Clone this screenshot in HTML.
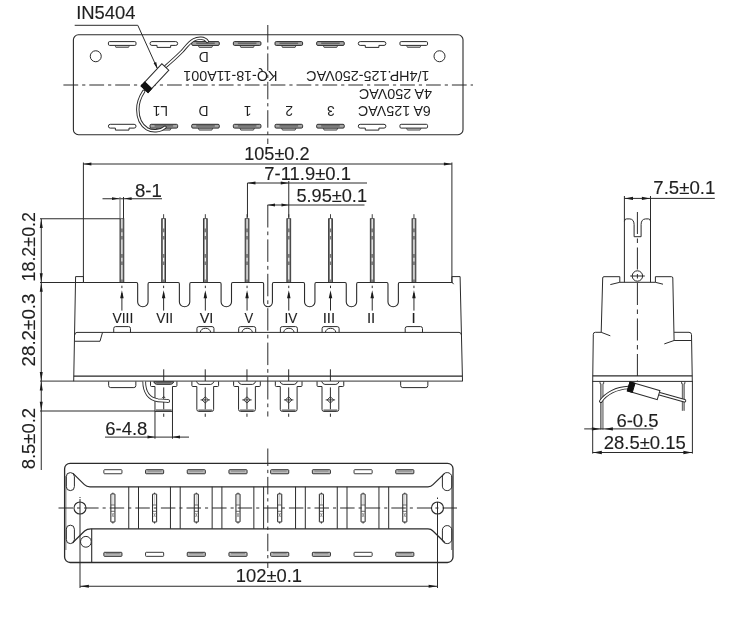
<!DOCTYPE html>
<html><head><meta charset="utf-8"><title>drawing</title>
<style>html,body{margin:0;padding:0;background:#fff}svg{display:block;will-change:transform}text{font-family:"Liberation Sans",sans-serif}</style></head>
<body>
<svg width="741" height="618" viewBox="0 0 741 618">
<rect x="0" y="0" width="741" height="618" fill="#fff"/>
<rect x="73.40" y="34.80" width="389.60" height="99.90" rx="5" stroke="#2b2b2b" stroke-width="1.1" fill="none" />
<circle cx="95.75" cy="56.25" r="5.5" stroke="#2b2b2b" stroke-width="1" fill="none"/>
<circle cx="439.50" cy="56.25" r="5.5" stroke="#2b2b2b" stroke-width="1" fill="none"/>
<line x1="63.40" y1="85.00" x2="473.00" y2="85.00" stroke="#2b2b2b" stroke-width="1" stroke-dasharray="14.8 3.95 3.2 3.95"/>
<line x1="267.80" y1="25.00" x2="267.80" y2="144.00" stroke="#2b2b2b" stroke-width="1" stroke-dasharray="17.5 3.8 3.3 3.8"/>
<path d="M114.90,45.40 L115.90,47.40 H128.50 L129.50,45.40" stroke="#555" stroke-width="0.9" fill="#c4c4c4" />
<rect x="108.40" y="41.60" width="27.60" height="3.80" rx="1.2" stroke="#2b2b2b" stroke-width="1" fill="#fff" />
<path d="M110.30,124.30 H134.10 Q136.00,124.30 136.00,126.20 Q136.00,128.10 134.10,128.10 H129.00 V130.10 H115.40 V128.10 H110.30 Q108.40,128.10 108.40,126.20 Q108.40,124.30 110.30,124.30 Z" stroke="#2b2b2b" stroke-width="1" fill="#fff" />
<path d="M151.95,41.60 H175.75 Q177.65,41.60 177.65,43.50 Q177.65,45.40 175.75,45.40 H170.65 V47.40 H157.05 V45.40 H151.95 Q150.05,45.40 150.05,43.50 Q150.05,41.60 151.95,41.60 Z" stroke="#2b2b2b" stroke-width="1" fill="#fff" />
<path d="M156.55,128.10 L157.55,130.10 H170.15 L171.15,128.10" stroke="#444" stroke-width="0.9" fill="#c4c4c4" />
<rect x="150.05" y="124.30" width="27.60" height="3.80" rx="1.2" stroke="#2a2a2a" stroke-width="1" fill="#a6a6a6" />
<line x1="154.55" y1="125.90" x2="173.15" y2="125.90" stroke="#5a5a5a" stroke-width="1.3" />
<path d="M198.20,45.40 L199.20,47.40 H211.80 L212.80,45.40" stroke="#444" stroke-width="0.9" fill="#c4c4c4" />
<rect x="191.70" y="41.60" width="27.60" height="3.80" rx="1.2" stroke="#2a2a2a" stroke-width="1" fill="#a6a6a6" />
<line x1="196.20" y1="43.20" x2="214.80" y2="43.20" stroke="#5a5a5a" stroke-width="1.3" />
<path d="M198.20,128.10 L199.20,130.10 H211.80 L212.80,128.10" stroke="#444" stroke-width="0.9" fill="#c4c4c4" />
<rect x="191.70" y="124.30" width="27.60" height="3.80" rx="1.2" stroke="#2a2a2a" stroke-width="1" fill="#a6a6a6" />
<line x1="196.20" y1="125.90" x2="214.80" y2="125.90" stroke="#5a5a5a" stroke-width="1.3" />
<path d="M239.85,45.40 L240.85,47.40 H253.45 L254.45,45.40" stroke="#444" stroke-width="0.9" fill="#c4c4c4" />
<rect x="233.35" y="41.60" width="27.60" height="3.80" rx="1.2" stroke="#2a2a2a" stroke-width="1" fill="#a6a6a6" />
<line x1="237.85" y1="43.20" x2="256.45" y2="43.20" stroke="#5a5a5a" stroke-width="1.3" />
<path d="M239.85,128.10 L240.85,130.10 H253.45 L254.45,128.10" stroke="#444" stroke-width="0.9" fill="#c4c4c4" />
<rect x="233.35" y="124.30" width="27.60" height="3.80" rx="1.2" stroke="#2a2a2a" stroke-width="1" fill="#a6a6a6" />
<line x1="237.85" y1="125.90" x2="256.45" y2="125.90" stroke="#5a5a5a" stroke-width="1.3" />
<path d="M281.50,45.40 L282.50,47.40 H295.10 L296.10,45.40" stroke="#444" stroke-width="0.9" fill="#c4c4c4" />
<rect x="275.00" y="41.60" width="27.60" height="3.80" rx="1.2" stroke="#2a2a2a" stroke-width="1" fill="#a6a6a6" />
<line x1="279.50" y1="43.20" x2="298.10" y2="43.20" stroke="#5a5a5a" stroke-width="1.3" />
<path d="M281.50,128.10 L282.50,130.10 H295.10 L296.10,128.10" stroke="#444" stroke-width="0.9" fill="#c4c4c4" />
<rect x="275.00" y="124.30" width="27.60" height="3.80" rx="1.2" stroke="#2a2a2a" stroke-width="1" fill="#a6a6a6" />
<line x1="279.50" y1="125.90" x2="298.10" y2="125.90" stroke="#5a5a5a" stroke-width="1.3" />
<path d="M323.15,45.40 L324.15,47.40 H336.75 L337.75,45.40" stroke="#444" stroke-width="0.9" fill="#c4c4c4" />
<rect x="316.65" y="41.60" width="27.60" height="3.80" rx="1.2" stroke="#2a2a2a" stroke-width="1" fill="#a6a6a6" />
<line x1="321.15" y1="43.20" x2="339.75" y2="43.20" stroke="#5a5a5a" stroke-width="1.3" />
<path d="M323.15,128.10 L324.15,130.10 H336.75 L337.75,128.10" stroke="#444" stroke-width="0.9" fill="#c4c4c4" />
<rect x="316.65" y="124.30" width="27.60" height="3.80" rx="1.2" stroke="#2a2a2a" stroke-width="1" fill="#a6a6a6" />
<line x1="321.15" y1="125.90" x2="339.75" y2="125.90" stroke="#5a5a5a" stroke-width="1.3" />
<path d="M360.20,41.60 H384.00 Q385.90,41.60 385.90,43.50 Q385.90,45.40 384.00,45.40 H378.90 V47.40 H365.30 V45.40 H360.20 Q358.30,45.40 358.30,43.50 Q358.30,41.60 360.20,41.60 Z" stroke="#2b2b2b" stroke-width="1" fill="#fff" />
<path d="M360.20,124.30 H384.00 Q385.90,124.30 385.90,126.20 Q385.90,128.10 384.00,128.10 H378.90 V130.10 H365.30 V128.10 H360.20 Q358.30,128.10 358.30,126.20 Q358.30,124.30 360.20,124.30 Z" stroke="#2b2b2b" stroke-width="1" fill="#fff" />
<path d="M406.45,45.40 L407.45,47.40 H420.05 L421.05,45.40" stroke="#555" stroke-width="0.9" fill="#c4c4c4" />
<rect x="399.95" y="41.60" width="27.60" height="3.80" rx="1.2" stroke="#2b2b2b" stroke-width="1" fill="#fff" />
<path d="M406.45,128.10 L407.45,130.10 H420.05 L421.05,128.10" stroke="#555" stroke-width="0.9" fill="#c4c4c4" />
<rect x="399.95" y="124.30" width="27.60" height="3.80" rx="1.2" stroke="#2b2b2b" stroke-width="1" fill="#fff" />
<g transform="rotate(180 203.80 57.20)">
<text x="198.80" y="62.18" font-size="13.9" text-anchor="start" textLength="10.00" lengthAdjust="spacingAndGlyphs" fill="#1f1f1f" >D</text>
</g>
<g transform="rotate(180 230.40 75.80)">
<text x="183.30" y="80.78" font-size="13.9" text-anchor="start" textLength="94.20" lengthAdjust="spacingAndGlyphs" fill="#1f1f1f" >KQ-18-11A001</text>
</g>
<g transform="rotate(180 367.90 75.80)">
<text x="306.20" y="80.78" font-size="13.9" text-anchor="start" textLength="123.40" lengthAdjust="spacingAndGlyphs" fill="#1f1f1f" >1/4HP.125-250VAC</text>
</g>
<g transform="rotate(180 395.40 93.95)">
<text x="358.77" y="98.93" font-size="13.9" text-anchor="start" textLength="73.25" lengthAdjust="spacingAndGlyphs" fill="#1f1f1f" >4A 250VAC</text>
</g>
<g transform="rotate(180 394.40 110.80)">
<text x="357.95" y="115.78" font-size="13.9" text-anchor="start" textLength="72.90" lengthAdjust="spacingAndGlyphs" fill="#1f1f1f" >6A 125VAC</text>
</g>
<g transform="rotate(180 160.40 110.50)">
<text x="152.70" y="115.48" font-size="13.9" text-anchor="start" textLength="15.40" lengthAdjust="spacingAndGlyphs" fill="#1f1f1f" >L1</text>
</g>
<g transform="rotate(180 203.60 110.50)">
<text x="198.60" y="115.48" font-size="13.9" text-anchor="start" textLength="10.00" lengthAdjust="spacingAndGlyphs" fill="#1f1f1f" >D</text>
</g>
<g transform="rotate(180 247.60 110.50)">
<text x="243.75" y="115.48" font-size="13.9" text-anchor="start" textLength="7.70" lengthAdjust="spacingAndGlyphs" fill="#1f1f1f" >1</text>
</g>
<g transform="rotate(180 289.20 110.50)">
<text x="285.35" y="115.48" font-size="13.9" text-anchor="start" textLength="7.70" lengthAdjust="spacingAndGlyphs" fill="#1f1f1f" >2</text>
</g>
<g transform="rotate(180 330.90 110.50)">
<text x="327.05" y="115.48" font-size="13.9" text-anchor="start" textLength="7.70" lengthAdjust="spacingAndGlyphs" fill="#1f1f1f" >3</text>
</g>
<text x="76.20" y="18.80" font-size="18.3" text-anchor="start" textLength="59.40" lengthAdjust="spacingAndGlyphs" fill="#1f1f1f" stroke="#1f1f1f" stroke-width="0.12" >IN5404</text>
<path d="M74.7,25.3 H137.8 L157.2,68.2" stroke="#2b2b2b" stroke-width="1" fill="none" />
<polygon points="157.6,69 153.6,63.2 156.2,62 " fill="#1a1a1a"/>
<path d="M165.6,66.5 C172,61 177,56.5 182,51.4 C186,47 189,42.5 193.5,40 C198,37.4 204.5,37.2 207.3,41.4" stroke="#2b2b2b" stroke-width="3.4" fill="none" stroke-linecap="round"/>
<path d="M165.6,66.5 C172,61 177,56.5 182,51.4 C186,47 189,42.5 193.5,40 C198,37.4 204.5,37.2 207.3,41.4" stroke="#fff" stroke-width="1.5" fill="none" stroke-linecap="round"/>
<path d="M143.7,91.4 C140,97 137.8,103 137.8,109.5 C137.8,118 141,125 147,128.8 C152,131.8 160,131.6 165,127.2" stroke="#2b2b2b" stroke-width="3.4" fill="none" stroke-linecap="round"/>
<path d="M143.7,91.4 C140,97 137.8,103 137.8,109.5 C137.8,118 141,125 147,128.8 C152,131.8 160,131.6 165,127.2" stroke="#fff" stroke-width="1.5" fill="none" stroke-linecap="round"/>
<g transform="translate(141.1,86) rotate(-46.9)">
<rect x="0" y="0" width="30.4" height="9.5" fill="#fff" stroke="#2b2b2b" stroke-width="1"/>
<rect x="0" y="0" width="5.4" height="9.5" fill="#111" stroke="#111" stroke-width="1"/>
</g>
<rect x="120.00" y="218.75" width="3.8" height="63.75" fill="#7d7d7d" stroke="#2f2f2f" stroke-width="0.9"/>
<line x1="121.90" y1="218.75" x2="121.90" y2="282.0" stroke="#fff" stroke-width="1.1" stroke-dasharray="14.4 3.7 3.7 3.7" stroke-dashoffset="4.65"/>
<rect x="161.72" y="218.75" width="3.8" height="63.75" fill="#7d7d7d" stroke="#2f2f2f" stroke-width="0.9"/>
<line x1="163.62" y1="218.75" x2="163.62" y2="282.0" stroke="#fff" stroke-width="1.1" stroke-dasharray="14.4 3.7 3.7 3.7" stroke-dashoffset="4.65"/>
<line x1="163.62" y1="214.20" x2="163.62" y2="218.50" stroke="#2b2b2b" stroke-width="0.9" />
<rect x="203.44" y="218.75" width="3.8" height="63.75" fill="#7d7d7d" stroke="#2f2f2f" stroke-width="0.9"/>
<line x1="205.34" y1="218.75" x2="205.34" y2="282.0" stroke="#fff" stroke-width="1.1" stroke-dasharray="14.4 3.7 3.7 3.7" stroke-dashoffset="4.65"/>
<line x1="205.34" y1="214.20" x2="205.34" y2="218.50" stroke="#2b2b2b" stroke-width="0.9" />
<rect x="245.16" y="218.75" width="3.8" height="63.75" fill="#7d7d7d" stroke="#2f2f2f" stroke-width="0.9"/>
<line x1="247.06" y1="218.75" x2="247.06" y2="282.0" stroke="#fff" stroke-width="1.1" stroke-dasharray="14.4 3.7 3.7 3.7" stroke-dashoffset="4.65"/>
<line x1="247.06" y1="214.20" x2="247.06" y2="218.50" stroke="#2b2b2b" stroke-width="0.9" />
<rect x="286.88" y="218.75" width="3.8" height="63.75" fill="#7d7d7d" stroke="#2f2f2f" stroke-width="0.9"/>
<line x1="288.78" y1="218.75" x2="288.78" y2="282.0" stroke="#fff" stroke-width="1.1" stroke-dasharray="14.4 3.7 3.7 3.7" stroke-dashoffset="4.65"/>
<line x1="288.78" y1="214.20" x2="288.78" y2="218.50" stroke="#2b2b2b" stroke-width="0.9" />
<rect x="328.60" y="218.75" width="3.8" height="63.75" fill="#7d7d7d" stroke="#2f2f2f" stroke-width="0.9"/>
<line x1="330.50" y1="218.75" x2="330.50" y2="282.0" stroke="#fff" stroke-width="1.1" stroke-dasharray="14.4 3.7 3.7 3.7" stroke-dashoffset="4.65"/>
<line x1="330.50" y1="214.20" x2="330.50" y2="218.50" stroke="#2b2b2b" stroke-width="0.9" />
<rect x="370.32" y="218.75" width="3.8" height="63.75" fill="#7d7d7d" stroke="#2f2f2f" stroke-width="0.9"/>
<line x1="372.22" y1="218.75" x2="372.22" y2="282.0" stroke="#fff" stroke-width="1.1" stroke-dasharray="14.4 3.7 3.7 3.7" stroke-dashoffset="4.65"/>
<line x1="372.22" y1="214.20" x2="372.22" y2="218.50" stroke="#2b2b2b" stroke-width="0.9" />
<rect x="412.04" y="218.75" width="3.8" height="63.75" fill="#7d7d7d" stroke="#2f2f2f" stroke-width="0.9"/>
<line x1="413.94" y1="218.75" x2="413.94" y2="282.0" stroke="#fff" stroke-width="1.1" stroke-dasharray="14.4 3.7 3.7 3.7" stroke-dashoffset="4.65"/>
<line x1="413.94" y1="214.20" x2="413.94" y2="218.50" stroke="#2b2b2b" stroke-width="0.9" />
<path d="M83.5,282.5 H136.46 Q137.66,282.5 137.66,283.9 V302.10 A5.2,4.6 0 0 0 148.06,302.10 V283.9 Q148.06,282.5 149.26,282.5 H178.18 Q179.38,282.5 179.38,283.9 V302.10 A5.2,4.6 0 0 0 189.78,302.10 V283.9 Q189.78,282.5 190.98,282.5 H219.90 Q221.10,282.5 221.10,283.9 V302.10 A5.2,4.6 0 0 0 231.50,302.10 V283.9 Q231.50,282.5 232.70,282.5 H262.42 Q263.62,282.5 263.62,283.9 V302.10 A4.4,4.6 0 0 0 272.42,302.10 V283.9 Q272.42,282.5 273.62,282.5 H303.34 Q304.54,282.5 304.54,283.9 V302.10 A5.2,4.6 0 0 0 314.94,302.10 V283.9 Q314.94,282.5 316.14,282.5 H345.06 Q346.26,282.5 346.26,283.9 V302.10 A5.2,4.6 0 0 0 356.66,302.10 V283.9 Q356.66,282.5 357.86,282.5 H386.78 Q387.98,282.5 387.98,283.9 V302.10 A5.2,4.6 0 0 0 398.38,302.10 V283.9 Q398.38,282.5 399.58,282.5 H451.9" stroke="#2b2b2b" stroke-width="1.1" fill="none" />
<path d="M83.5,282.5 V276.6 H75.6 L73.7,381.25" stroke="#2b2b2b" stroke-width="1" fill="none" />
<path d="M451.9,282.5 V276.6 H460.1 L462.5,381.25" stroke="#2b2b2b" stroke-width="1" fill="none" />
<line x1="451.90" y1="282.00" x2="453.60" y2="284.20" stroke="#2b2b2b" stroke-width="1" />
<line x1="40.00" y1="282.50" x2="83.50" y2="282.50" stroke="#2b2b2b" stroke-width="1" />
<path d="M74.7,335 Q74.8,332.4 77,332.4 H459 Q461.3,332.4 461.5,335" stroke="#2b2b2b" stroke-width="1" fill="none" />
<path d="M74.6,341.25 H100 L102.5,332.5" stroke="#2b2b2b" stroke-width="1" fill="none" />
<line x1="73.80" y1="376.10" x2="462.30" y2="376.10" stroke="#262626" stroke-width="1.45" />
<line x1="40.00" y1="381.10" x2="462.60" y2="381.10" stroke="#333" stroke-width="1.0" />
<path d="M113.73,332.5 V328.5 Q113.73,326.6 115.63,326.6 H128.58 Q130.48,326.6 130.48,328.5 V332.5" stroke="#2b2b2b" stroke-width="1" fill="none" />
<path d="M196.94,332.5 V328.5 Q196.94,326.6 198.84,326.6 H212.04 Q213.94,326.6 213.94,328.5 V332.5" stroke="#2b2b2b" stroke-width="1" fill="none" />
<path d="M200.14,332.3 A5.5,5.5 0 0 1 210.74,332.3" stroke="#2b2b2b" stroke-width="1" fill="none" />
<path d="M238.66,332.5 V328.5 Q238.66,326.6 240.56,326.6 H253.76 Q255.66,326.6 255.66,328.5 V332.5" stroke="#2b2b2b" stroke-width="1" fill="none" />
<path d="M241.86,332.3 A5.5,5.5 0 0 1 252.46,332.3" stroke="#2b2b2b" stroke-width="1" fill="none" />
<path d="M280.38,332.5 V328.5 Q280.38,326.6 282.28,326.6 H295.48 Q297.38,326.6 297.38,328.5 V332.5" stroke="#2b2b2b" stroke-width="1" fill="none" />
<path d="M283.58,332.3 A5.5,5.5 0 0 1 294.18,332.3" stroke="#2b2b2b" stroke-width="1" fill="none" />
<path d="M322.10,332.5 V328.5 Q322.10,326.6 324.00,326.6 H337.20 Q339.10,326.6 339.10,328.5 V332.5" stroke="#2b2b2b" stroke-width="1" fill="none" />
<path d="M325.30,332.3 A5.5,5.5 0 0 1 335.90,332.3" stroke="#2b2b2b" stroke-width="1" fill="none" />
<path d="M405.19,332.5 V328.5 Q405.19,326.6 407.09,326.6 H420.59 Q422.49,326.6 422.49,328.5 V332.5" stroke="#2b2b2b" stroke-width="1" fill="none" />
<line x1="121.90" y1="285.70" x2="121.90" y2="288.10" stroke="#2b2b2b" stroke-width="1" />
<line x1="121.90" y1="293.00" x2="121.90" y2="310.60" stroke="#2b2b2b" stroke-width="1" />
<polygon points="121.90,290.30 120.15,298.30 123.65,298.30" fill="#1a1a1a"/>
<text x="112.50" y="322.70" font-size="15" text-anchor="start" textLength="20.80" lengthAdjust="spacingAndGlyphs" fill="#1f1f1f" stroke="#1f1f1f" stroke-width="0.12" >VIII</text>
<line x1="163.62" y1="285.70" x2="163.62" y2="288.10" stroke="#2b2b2b" stroke-width="1" />
<line x1="163.62" y1="293.00" x2="163.62" y2="310.60" stroke="#2b2b2b" stroke-width="1" />
<polygon points="163.62,290.30 161.87,298.30 165.37,298.30" fill="#1a1a1a"/>
<text x="156.30" y="322.70" font-size="15" text-anchor="start" textLength="16.75" lengthAdjust="spacingAndGlyphs" fill="#1f1f1f" stroke="#1f1f1f" stroke-width="0.12" >VII</text>
<line x1="205.34" y1="285.70" x2="205.34" y2="288.10" stroke="#2b2b2b" stroke-width="1" />
<line x1="205.34" y1="293.00" x2="205.34" y2="310.60" stroke="#2b2b2b" stroke-width="1" />
<polygon points="205.34,290.30 203.59,298.30 207.09,298.30" fill="#1a1a1a"/>
<text x="199.70" y="322.70" font-size="15" text-anchor="start" textLength="13.70" lengthAdjust="spacingAndGlyphs" fill="#1f1f1f" stroke="#1f1f1f" stroke-width="0.12" >VI</text>
<line x1="247.06" y1="285.70" x2="247.06" y2="288.10" stroke="#2b2b2b" stroke-width="1" />
<line x1="247.06" y1="293.00" x2="247.06" y2="310.60" stroke="#2b2b2b" stroke-width="1" />
<polygon points="247.06,290.30 245.31,298.30 248.81,298.30" fill="#1a1a1a"/>
<text x="244.40" y="322.70" font-size="15" text-anchor="start" textLength="8.70" lengthAdjust="spacingAndGlyphs" fill="#1f1f1f" stroke="#1f1f1f" stroke-width="0.12" >V</text>
<line x1="288.78" y1="285.70" x2="288.78" y2="288.10" stroke="#2b2b2b" stroke-width="1" />
<line x1="288.78" y1="293.00" x2="288.78" y2="310.60" stroke="#2b2b2b" stroke-width="1" />
<polygon points="288.78,290.30 287.03,298.30 290.53,298.30" fill="#1a1a1a"/>
<text x="284.50" y="322.70" font-size="15" text-anchor="start" textLength="12.90" lengthAdjust="spacingAndGlyphs" fill="#1f1f1f" stroke="#1f1f1f" stroke-width="0.12" >IV</text>
<line x1="330.50" y1="285.70" x2="330.50" y2="288.10" stroke="#2b2b2b" stroke-width="1" />
<line x1="330.50" y1="293.00" x2="330.50" y2="310.60" stroke="#2b2b2b" stroke-width="1" />
<polygon points="330.50,290.30 328.75,298.30 332.25,298.30" fill="#1a1a1a"/>
<text x="322.65" y="322.70" font-size="15" text-anchor="start" textLength="12.50" lengthAdjust="spacingAndGlyphs" fill="#1f1f1f" stroke="#1f1f1f" stroke-width="0.12" >III</text>
<line x1="372.22" y1="285.70" x2="372.22" y2="288.10" stroke="#2b2b2b" stroke-width="1" />
<line x1="372.22" y1="293.00" x2="372.22" y2="310.60" stroke="#2b2b2b" stroke-width="1" />
<polygon points="372.22,290.30 370.47,298.30 373.97,298.30" fill="#1a1a1a"/>
<text x="366.90" y="322.70" font-size="15" text-anchor="start" textLength="8.33" lengthAdjust="spacingAndGlyphs" fill="#1f1f1f" stroke="#1f1f1f" stroke-width="0.12" >II</text>
<line x1="413.94" y1="285.70" x2="413.94" y2="288.10" stroke="#2b2b2b" stroke-width="1" />
<line x1="413.94" y1="293.00" x2="413.94" y2="310.60" stroke="#2b2b2b" stroke-width="1" />
<polygon points="413.94,290.30 412.19,298.30 415.69,298.30" fill="#1a1a1a"/>
<text x="411.40" y="322.70" font-size="15" text-anchor="start" textLength="4.17" lengthAdjust="spacingAndGlyphs" fill="#1f1f1f" stroke="#1f1f1f" stroke-width="0.12" >I</text>
<path d="M191.89,381.4 V385.5 Q191.89,386.5 192.89,386.5 H196.84 V409.40 Q196.84,411.4 198.84,411.4 H211.64 Q213.64,411.4 213.64,409.40 V386.5 H217.59 Q218.59,386.5 218.59,385.5 V381.4" stroke="#2b2b2b" stroke-width="1" fill="none" />
<line x1="198.34" y1="410.20" x2="212.14" y2="410.20" stroke="#777" stroke-width="1.6" />
<path d="M196.44,381.4 Q197.74,384.4 199.74,384.4 H210.74 Q212.74,384.4 214.04,381.4" stroke="#2b2b2b" stroke-width="1" fill="none" />
<path d="M201.94,399.9 L205.24,396.79999999999995 L208.54,399.9 L205.24,403.0 Z" stroke="#2b2b2b" stroke-width="0.9" fill="#fff" />
<line x1="200.54" y1="399.90" x2="209.94" y2="399.90" stroke="#2b2b2b" stroke-width="0.9" />
<line x1="205.24" y1="369.30" x2="205.24" y2="381.00" stroke="#2b2b2b" stroke-width="1" />
<line x1="205.24" y1="387.40" x2="205.24" y2="409.30" stroke="#2b2b2b" stroke-width="1" />
<line x1="205.24" y1="413.60" x2="205.24" y2="416.80" stroke="#2b2b2b" stroke-width="1" />
<path d="M233.61,381.4 V385.5 Q233.61,386.5 234.61,386.5 H238.56 V409.40 Q238.56,411.4 240.56,411.4 H253.36 Q255.36,411.4 255.36,409.40 V386.5 H259.31 Q260.31,386.5 260.31,385.5 V381.4" stroke="#2b2b2b" stroke-width="1" fill="none" />
<line x1="240.06" y1="410.20" x2="253.86" y2="410.20" stroke="#777" stroke-width="1.6" />
<path d="M238.16,381.4 Q239.46,384.4 241.46,384.4 H252.46 Q254.46,384.4 255.76,381.4" stroke="#2b2b2b" stroke-width="1" fill="none" />
<path d="M243.66,399.9 L246.96,396.79999999999995 L250.26,399.9 L246.96,403.0 Z" stroke="#2b2b2b" stroke-width="0.9" fill="#fff" />
<line x1="242.26" y1="399.90" x2="251.66" y2="399.90" stroke="#2b2b2b" stroke-width="0.9" />
<line x1="246.96" y1="369.30" x2="246.96" y2="381.00" stroke="#2b2b2b" stroke-width="1" />
<line x1="246.96" y1="387.40" x2="246.96" y2="409.30" stroke="#2b2b2b" stroke-width="1" />
<line x1="246.96" y1="413.60" x2="246.96" y2="416.80" stroke="#2b2b2b" stroke-width="1" />
<path d="M275.33,381.4 V385.5 Q275.33,386.5 276.33,386.5 H280.28 V409.40 Q280.28,411.4 282.28,411.4 H295.08 Q297.08,411.4 297.08,409.40 V386.5 H301.03 Q302.03,386.5 302.03,385.5 V381.4" stroke="#2b2b2b" stroke-width="1" fill="none" />
<line x1="281.78" y1="410.20" x2="295.58" y2="410.20" stroke="#777" stroke-width="1.6" />
<path d="M279.88,381.4 Q281.18,384.4 283.18,384.4 H294.18 Q296.18,384.4 297.48,381.4" stroke="#2b2b2b" stroke-width="1" fill="none" />
<path d="M285.38,399.9 L288.68,396.79999999999995 L291.98,399.9 L288.68,403.0 Z" stroke="#2b2b2b" stroke-width="0.9" fill="#fff" />
<line x1="283.98" y1="399.90" x2="293.38" y2="399.90" stroke="#2b2b2b" stroke-width="0.9" />
<line x1="288.68" y1="369.30" x2="288.68" y2="381.00" stroke="#2b2b2b" stroke-width="1" />
<line x1="288.68" y1="387.40" x2="288.68" y2="409.30" stroke="#2b2b2b" stroke-width="1" />
<line x1="288.68" y1="413.60" x2="288.68" y2="416.80" stroke="#2b2b2b" stroke-width="1" />
<path d="M317.05,381.4 V385.5 Q317.05,386.5 318.05,386.5 H322.00 V409.40 Q322.00,411.4 324.00,411.4 H336.80 Q338.80,411.4 338.80,409.40 V386.5 H342.75 Q343.75,386.5 343.75,385.5 V381.4" stroke="#2b2b2b" stroke-width="1" fill="none" />
<line x1="323.50" y1="410.20" x2="337.30" y2="410.20" stroke="#777" stroke-width="1.6" />
<path d="M321.60,381.4 Q322.90,384.4 324.90,384.4 H335.90 Q337.90,384.4 339.20,381.4" stroke="#2b2b2b" stroke-width="1" fill="none" />
<path d="M327.10,399.9 L330.40,396.79999999999995 L333.70,399.9 L330.40,403.0 Z" stroke="#2b2b2b" stroke-width="0.9" fill="#fff" />
<line x1="325.70" y1="399.90" x2="335.10" y2="399.90" stroke="#2b2b2b" stroke-width="0.9" />
<line x1="330.40" y1="369.30" x2="330.40" y2="381.00" stroke="#2b2b2b" stroke-width="1" />
<line x1="330.40" y1="387.40" x2="330.40" y2="409.30" stroke="#2b2b2b" stroke-width="1" />
<line x1="330.40" y1="413.60" x2="330.40" y2="416.80" stroke="#2b2b2b" stroke-width="1" />
<path d="M108.65,381.4 V385.5 Q108.65,387.6 110.65,387.6 H133.85 Q135.85,387.6 135.85,385.5 V381.4" stroke="#2b2b2b" stroke-width="1" fill="none" />
<path d="M400.65,381.4 V385.5 Q400.65,387.6 402.65,387.6 H425.85 Q427.85,387.6 427.85,385.5 V381.4" stroke="#2b2b2b" stroke-width="1" fill="none" />
<path d="M150.52,381.4 V385.5 Q150.52,386.5 151.52,386.5 H154.97 M172.47,386.5 H175.92 Q176.92,386.5 176.92,385.5 V381.4" stroke="#2b2b2b" stroke-width="1" fill="none" />
<line x1="154.97" y1="386.50" x2="154.97" y2="438.75" stroke="#2b2b2b" stroke-width="1" />
<line x1="172.47" y1="386.50" x2="172.47" y2="438.75" stroke="#2b2b2b" stroke-width="1" />
<line x1="155.77" y1="410.20" x2="171.67" y2="410.20" stroke="#777" stroke-width="1.8" />
<line x1="154.97" y1="411.40" x2="172.47" y2="411.40" stroke="#2b2b2b" stroke-width="1" />
<path d="M153.72,381.79999999999995 Q154.72,384.29999999999995 156.72,384.29999999999995 H170.72 Q172.72,384.29999999999995 173.72,381.79999999999995 Z" stroke="#222" stroke-width="1" fill="#b0b0b0" />
<line x1="156.22" y1="382.90" x2="171.22" y2="382.90" stroke="#555" stroke-width="1.1" />
<line x1="163.72" y1="369.30" x2="163.72" y2="381.00" stroke="#2b2b2b" stroke-width="1" />
<line x1="163.72" y1="387.40" x2="163.72" y2="409.30" stroke="#2b2b2b" stroke-width="1" />
<line x1="163.72" y1="413.60" x2="163.72" y2="416.80" stroke="#2b2b2b" stroke-width="1" />
<path d="M144.2,381.6 C144.2,392 149,399 158,400.3 L168.2,401" stroke="#2b2b2b" stroke-width="3.7" fill="none" />
<circle cx="168.2" cy="401" r="1.85" fill="#2b2b2b"/>
<path d="M144.2,381.6 C144.2,392 149,399 158,400.3 L168.2,401" stroke="#fff" stroke-width="1.9" fill="none" />
<circle cx="168.2" cy="401" r="0.95" fill="#fff"/>
<path d="M162.12,398.2 L163.72,396.4 L165.32,398.2" stroke="#2b2b2b" stroke-width="0.9" fill="none" />
<line x1="105.00" y1="437.10" x2="189.00" y2="437.10" stroke="#2b2b2b" stroke-width="1" />
<polygon points="154.97,437.10 147.47,435.60 147.47,438.60" fill="#1a1a1a"/>
<polygon points="172.47,437.10 179.97,435.60 179.97,438.60" fill="#1a1a1a"/>
<text x="105.30" y="435.00" font-size="17.6" text-anchor="start" textLength="42.10" lengthAdjust="spacingAndGlyphs" fill="#1f1f1f" stroke="#1f1f1f" stroke-width="0.12" >6-4.8</text>
<line x1="41.25" y1="218.75" x2="41.25" y2="470.00" stroke="#2b2b2b" stroke-width="1" />
<line x1="40.00" y1="218.75" x2="120.00" y2="218.75" stroke="#2b2b2b" stroke-width="1" />
<line x1="40.00" y1="411.00" x2="155.02" y2="411.00" stroke="#2b2b2b" stroke-width="1" />
<polygon points="41.25,219.00 39.75,228.00 42.75,228.00" fill="#1a1a1a"/>
<polygon points="41.25,282.20 39.75,273.20 42.75,273.20" fill="#1a1a1a"/>
<polygon points="41.25,282.80 39.75,291.80 42.75,291.80" fill="#1a1a1a"/>
<polygon points="41.25,380.90 39.75,371.90 42.75,371.90" fill="#1a1a1a"/>
<polygon points="41.25,381.40 39.75,390.40 42.75,390.40" fill="#1a1a1a"/>
<polygon points="41.25,410.80 39.75,401.80 42.75,401.80" fill="#1a1a1a"/>
<g transform="rotate(-90 35.00 246.75)">
<text x="0.25" y="246.75" font-size="17.6" text-anchor="start" textLength="69.50" lengthAdjust="spacingAndGlyphs" fill="#1f1f1f" stroke="#1f1f1f" stroke-width="0.12" >18.2±0.2</text>
</g>
<g transform="rotate(-90 35.00 330.00)">
<text x="-1.50" y="330.00" font-size="17.6" text-anchor="start" textLength="73.00" lengthAdjust="spacingAndGlyphs" fill="#1f1f1f" stroke="#1f1f1f" stroke-width="0.12" >28.2±0.3</text>
</g>
<g transform="rotate(-90 35.00 438.60)">
<text x="4.25" y="438.60" font-size="17.6" text-anchor="start" textLength="61.50" lengthAdjust="spacingAndGlyphs" fill="#1f1f1f" stroke="#1f1f1f" stroke-width="0.12" >8.5±0.2</text>
</g>
<line x1="83.40" y1="162.50" x2="83.40" y2="282.50" stroke="#2b2b2b" stroke-width="1" />
<line x1="451.90" y1="162.50" x2="451.90" y2="282.50" stroke="#2b2b2b" stroke-width="1" />
<line x1="83.40" y1="164.00" x2="451.90" y2="164.00" stroke="#2b2b2b" stroke-width="1" />
<polygon points="83.40,164.00 91.40,162.50 91.40,165.50" fill="#1a1a1a"/>
<polygon points="451.90,164.00 443.90,162.50 443.90,165.50" fill="#1a1a1a"/>
<text x="244.20" y="160.40" font-size="17.7" text-anchor="start" textLength="65.30" lengthAdjust="spacingAndGlyphs" fill="#1f1f1f" stroke="#1f1f1f" stroke-width="0.12" >105±0.2</text>
<line x1="102.50" y1="198.75" x2="162.00" y2="198.75" stroke="#2b2b2b" stroke-width="1" />
<line x1="120.00" y1="197.00" x2="120.00" y2="218.75" stroke="#666" stroke-width="1" />
<line x1="123.50" y1="197.00" x2="123.50" y2="218.75" stroke="#2b2b2b" stroke-width="1" />
<polygon points="119.30,198.60 112.00,197.20 112.00,200.00" fill="#1a1a1a"/>
<polygon points="124.30,198.60 131.60,197.20 131.60,200.00" fill="#1a1a1a"/>
<text x="134.90" y="196.80" font-size="17.6" text-anchor="start" textLength="26.90" lengthAdjust="spacingAndGlyphs" fill="#1f1f1f" stroke="#1f1f1f" stroke-width="0.12" >8-1</text>
<line x1="247.46" y1="183.00" x2="367.00" y2="183.00" stroke="#2b2b2b" stroke-width="1" />
<line x1="247.46" y1="183.00" x2="247.46" y2="217.50" stroke="#2b2b2b" stroke-width="1" />
<line x1="288.78" y1="181.00" x2="288.78" y2="217.50" stroke="#2b2b2b" stroke-width="1" />
<polygon points="247.46,183.00 255.46,181.50 255.46,184.50" fill="#1a1a1a"/>
<polygon points="288.78,183.00 280.78,181.50 280.78,184.50" fill="#1a1a1a"/>
<text x="264.30" y="180.10" font-size="17.6" text-anchor="start" textLength="86.60" lengthAdjust="spacingAndGlyphs" fill="#1f1f1f" stroke="#1f1f1f" stroke-width="0.12" >7-11.9±0.1</text>
<line x1="267.50" y1="205.00" x2="364.50" y2="205.00" stroke="#2b2b2b" stroke-width="1" />
<polygon points="268.00,205.00 275.00,203.60 275.00,206.40" fill="#1a1a1a"/>
<polygon points="288.48,205.00 281.48,203.60 281.48,206.40" fill="#1a1a1a"/>
<text x="296.40" y="202.20" font-size="17.6" text-anchor="start" textLength="70.60" lengthAdjust="spacingAndGlyphs" fill="#1f1f1f" stroke="#1f1f1f" stroke-width="0.12" >5.95±0.1</text>
<line x1="267.80" y1="205.00" x2="267.80" y2="416.50" stroke="#2b2b2b" stroke-width="1" stroke-dasharray="22.5 4 3.7 4.2"/>
<line x1="267.80" y1="448.50" x2="267.80" y2="568.00" stroke="#2b2b2b" stroke-width="1" stroke-dasharray="17.5 3.8 3.3 3.8"/>
<rect x="64.60" y="463.30" width="388.40" height="99.20" rx="5.5" stroke="#2b2b2b" stroke-width="1.3" fill="none" />
<line x1="65.90" y1="476.00" x2="65.90" y2="550.00" stroke="#555" stroke-width="0.8" />
<line x1="451.70" y1="476.00" x2="451.70" y2="550.00" stroke="#555" stroke-width="0.8" />
<rect x="66.30" y="472.60" width="8.10" height="18.00" rx="4" stroke="#2b2b2b" stroke-width="1" fill="none" />
<rect x="66.30" y="525.20" width="8.10" height="18.40" rx="4" stroke="#2b2b2b" stroke-width="1" fill="none" />
<rect x="442.40" y="472.60" width="9.40" height="18.00" rx="4.5" stroke="#2b2b2b" stroke-width="1" fill="none" />
<rect x="442.40" y="525.60" width="9.40" height="18.00" rx="4.5" stroke="#2b2b2b" stroke-width="1" fill="none" />
<path d="M73,473.4 L84.4,484.6 Q86.6,486.8 90,486.8 H428 Q431,486.8 433,484.6 L444.6,473.4" stroke="#2b2b2b" stroke-width="1.2" fill="none" />
<path d="M72.6,542.8 L84.6,531 Q87,528.8 91,528.8 H428 Q431,528.8 433,531 L445,542.8" stroke="#2b2b2b" stroke-width="1.2" fill="none" />
<line x1="91.70" y1="528.80" x2="91.70" y2="562.50" stroke="#2b2b2b" stroke-width="1.1" />
<circle cx="85.90" cy="541.80" r="5.4" stroke="#2b2b2b" stroke-width="1" fill="#fff"/>
<line x1="128.75" y1="486.80" x2="128.75" y2="528.80" stroke="#2b2b2b" stroke-width="1" />
<line x1="138.50" y1="486.80" x2="138.50" y2="528.80" stroke="#2b2b2b" stroke-width="1" />
<line x1="170.45" y1="486.80" x2="170.45" y2="528.80" stroke="#2b2b2b" stroke-width="1" />
<line x1="180.20" y1="486.80" x2="180.20" y2="528.80" stroke="#2b2b2b" stroke-width="1" />
<line x1="212.15" y1="486.80" x2="212.15" y2="528.80" stroke="#2b2b2b" stroke-width="1" />
<line x1="221.90" y1="486.80" x2="221.90" y2="528.80" stroke="#2b2b2b" stroke-width="1" />
<line x1="253.85" y1="486.80" x2="253.85" y2="528.80" stroke="#2b2b2b" stroke-width="1" />
<line x1="263.60" y1="486.80" x2="263.60" y2="528.80" stroke="#2b2b2b" stroke-width="1" />
<line x1="295.55" y1="486.80" x2="295.55" y2="528.80" stroke="#2b2b2b" stroke-width="1" />
<line x1="305.30" y1="486.80" x2="305.30" y2="528.80" stroke="#2b2b2b" stroke-width="1" />
<line x1="337.25" y1="486.80" x2="337.25" y2="528.80" stroke="#2b2b2b" stroke-width="1" />
<line x1="347.00" y1="486.80" x2="347.00" y2="528.80" stroke="#2b2b2b" stroke-width="1" />
<line x1="378.95" y1="486.80" x2="378.95" y2="528.80" stroke="#2b2b2b" stroke-width="1" />
<line x1="388.70" y1="486.80" x2="388.70" y2="528.80" stroke="#2b2b2b" stroke-width="1" />
<line x1="112.90" y1="492.60" x2="112.90" y2="523.60" stroke="#2b2b2b" stroke-width="0.9" />
<rect x="110.85" y="494.00" width="4.10" height="28.00" rx="0.3" stroke="#222" stroke-width="1" fill="#fff" />
<line x1="112.90" y1="494.50" x2="112.90" y2="504.50" stroke="#cfcfcf" stroke-width="1.2" />
<line x1="111.00" y1="505.00" x2="114.80" y2="505.00" stroke="#444" stroke-width="0.8" />
<line x1="111.00" y1="511.30" x2="114.80" y2="511.30" stroke="#444" stroke-width="0.8" />
<path d="M112.00,513 L113.80,517 M113.80,513 L112.00,517" stroke="#666" stroke-width="0.6" fill="none" />
<rect x="103.85" y="469.70" width="18.10" height="4.05" rx="0.7" stroke="#3a3a3a" stroke-width="1" fill="#fff" />
<rect x="103.85" y="552.30" width="18.10" height="4.05" rx="0.7" stroke="#333" stroke-width="1" fill="#bdbdbd" />
<line x1="105.90" y1="553.70" x2="119.90" y2="553.70" stroke="#8a8a8a" stroke-width="1.1" />
<line x1="154.60" y1="492.60" x2="154.60" y2="523.60" stroke="#2b2b2b" stroke-width="0.9" />
<rect x="152.55" y="494.00" width="4.10" height="28.00" rx="0.3" stroke="#222" stroke-width="1" fill="#fff" />
<line x1="154.60" y1="494.50" x2="154.60" y2="504.50" stroke="#cfcfcf" stroke-width="1.2" />
<line x1="152.70" y1="505.00" x2="156.50" y2="505.00" stroke="#444" stroke-width="0.8" />
<line x1="152.70" y1="511.30" x2="156.50" y2="511.30" stroke="#444" stroke-width="0.8" />
<path d="M153.70,513 L155.50,517 M155.50,513 L153.70,517" stroke="#666" stroke-width="0.6" fill="none" />
<rect x="145.55" y="469.70" width="18.10" height="4.05" rx="0.7" stroke="#333" stroke-width="1" fill="#bdbdbd" />
<line x1="147.60" y1="471.10" x2="161.60" y2="471.10" stroke="#8a8a8a" stroke-width="1.1" />
<rect x="145.55" y="552.30" width="18.10" height="4.05" rx="0.7" stroke="#3a3a3a" stroke-width="1" fill="#fff" />
<line x1="196.30" y1="492.60" x2="196.30" y2="523.60" stroke="#2b2b2b" stroke-width="0.9" />
<rect x="194.25" y="494.00" width="4.10" height="28.00" rx="0.3" stroke="#222" stroke-width="1" fill="#fff" />
<line x1="196.30" y1="494.50" x2="196.30" y2="504.50" stroke="#cfcfcf" stroke-width="1.2" />
<line x1="194.40" y1="505.00" x2="198.20" y2="505.00" stroke="#444" stroke-width="0.8" />
<line x1="194.40" y1="511.30" x2="198.20" y2="511.30" stroke="#444" stroke-width="0.8" />
<path d="M195.40,513 L197.20,517 M197.20,513 L195.40,517" stroke="#666" stroke-width="0.6" fill="none" />
<rect x="187.25" y="469.70" width="18.10" height="4.05" rx="0.7" stroke="#333" stroke-width="1" fill="#bdbdbd" />
<line x1="189.30" y1="471.10" x2="203.30" y2="471.10" stroke="#8a8a8a" stroke-width="1.1" />
<rect x="187.25" y="552.30" width="18.10" height="4.05" rx="0.7" stroke="#333" stroke-width="1" fill="#bdbdbd" />
<line x1="189.30" y1="553.70" x2="203.30" y2="553.70" stroke="#8a8a8a" stroke-width="1.1" />
<line x1="238.00" y1="492.60" x2="238.00" y2="523.60" stroke="#2b2b2b" stroke-width="0.9" />
<rect x="235.95" y="494.00" width="4.10" height="28.00" rx="0.3" stroke="#222" stroke-width="1" fill="#fff" />
<line x1="238.00" y1="494.50" x2="238.00" y2="504.50" stroke="#cfcfcf" stroke-width="1.2" />
<line x1="236.10" y1="505.00" x2="239.90" y2="505.00" stroke="#444" stroke-width="0.8" />
<line x1="236.10" y1="511.30" x2="239.90" y2="511.30" stroke="#444" stroke-width="0.8" />
<path d="M237.10,513 L238.90,517 M238.90,513 L237.10,517" stroke="#666" stroke-width="0.6" fill="none" />
<rect x="228.95" y="469.70" width="18.10" height="4.05" rx="0.7" stroke="#333" stroke-width="1" fill="#bdbdbd" />
<line x1="231.00" y1="471.10" x2="245.00" y2="471.10" stroke="#8a8a8a" stroke-width="1.1" />
<rect x="228.95" y="552.30" width="18.10" height="4.05" rx="0.7" stroke="#333" stroke-width="1" fill="#bdbdbd" />
<line x1="231.00" y1="553.70" x2="245.00" y2="553.70" stroke="#8a8a8a" stroke-width="1.1" />
<line x1="279.70" y1="492.60" x2="279.70" y2="523.60" stroke="#2b2b2b" stroke-width="0.9" />
<rect x="277.65" y="494.00" width="4.10" height="28.00" rx="0.3" stroke="#222" stroke-width="1" fill="#fff" />
<line x1="279.70" y1="494.50" x2="279.70" y2="504.50" stroke="#cfcfcf" stroke-width="1.2" />
<line x1="277.80" y1="505.00" x2="281.60" y2="505.00" stroke="#444" stroke-width="0.8" />
<line x1="277.80" y1="511.30" x2="281.60" y2="511.30" stroke="#444" stroke-width="0.8" />
<path d="M278.80,513 L280.60,517 M280.60,513 L278.80,517" stroke="#666" stroke-width="0.6" fill="none" />
<rect x="270.65" y="469.70" width="18.10" height="4.05" rx="0.7" stroke="#333" stroke-width="1" fill="#bdbdbd" />
<line x1="272.70" y1="471.10" x2="286.70" y2="471.10" stroke="#8a8a8a" stroke-width="1.1" />
<rect x="270.65" y="552.30" width="18.10" height="4.05" rx="0.7" stroke="#333" stroke-width="1" fill="#bdbdbd" />
<line x1="272.70" y1="553.70" x2="286.70" y2="553.70" stroke="#8a8a8a" stroke-width="1.1" />
<line x1="321.40" y1="492.60" x2="321.40" y2="523.60" stroke="#2b2b2b" stroke-width="0.9" />
<rect x="319.35" y="494.00" width="4.10" height="28.00" rx="0.3" stroke="#222" stroke-width="1" fill="#fff" />
<line x1="321.40" y1="494.50" x2="321.40" y2="504.50" stroke="#cfcfcf" stroke-width="1.2" />
<line x1="319.50" y1="505.00" x2="323.30" y2="505.00" stroke="#444" stroke-width="0.8" />
<line x1="319.50" y1="511.30" x2="323.30" y2="511.30" stroke="#444" stroke-width="0.8" />
<path d="M320.50,513 L322.30,517 M322.30,513 L320.50,517" stroke="#666" stroke-width="0.6" fill="none" />
<rect x="312.35" y="469.70" width="18.10" height="4.05" rx="0.7" stroke="#333" stroke-width="1" fill="#bdbdbd" />
<line x1="314.40" y1="471.10" x2="328.40" y2="471.10" stroke="#8a8a8a" stroke-width="1.1" />
<rect x="312.35" y="552.30" width="18.10" height="4.05" rx="0.7" stroke="#333" stroke-width="1" fill="#bdbdbd" />
<line x1="314.40" y1="553.70" x2="328.40" y2="553.70" stroke="#8a8a8a" stroke-width="1.1" />
<line x1="363.10" y1="492.60" x2="363.10" y2="523.60" stroke="#2b2b2b" stroke-width="0.9" />
<rect x="361.05" y="494.00" width="4.10" height="28.00" rx="0.3" stroke="#222" stroke-width="1" fill="#fff" />
<line x1="363.10" y1="494.50" x2="363.10" y2="504.50" stroke="#cfcfcf" stroke-width="1.2" />
<line x1="361.20" y1="505.00" x2="365.00" y2="505.00" stroke="#444" stroke-width="0.8" />
<line x1="361.20" y1="511.30" x2="365.00" y2="511.30" stroke="#444" stroke-width="0.8" />
<path d="M362.20,513 L364.00,517 M364.00,513 L362.20,517" stroke="#666" stroke-width="0.6" fill="none" />
<rect x="354.05" y="469.70" width="18.10" height="4.05" rx="0.7" stroke="#3a3a3a" stroke-width="1" fill="#fff" />
<rect x="354.05" y="552.30" width="18.10" height="4.05" rx="0.7" stroke="#3a3a3a" stroke-width="1" fill="#fff" />
<line x1="404.80" y1="492.60" x2="404.80" y2="523.60" stroke="#2b2b2b" stroke-width="0.9" />
<rect x="402.75" y="494.00" width="4.10" height="28.00" rx="0.3" stroke="#222" stroke-width="1" fill="#fff" />
<line x1="404.80" y1="494.50" x2="404.80" y2="504.50" stroke="#cfcfcf" stroke-width="1.2" />
<line x1="402.90" y1="505.00" x2="406.70" y2="505.00" stroke="#444" stroke-width="0.8" />
<line x1="402.90" y1="511.30" x2="406.70" y2="511.30" stroke="#444" stroke-width="0.8" />
<path d="M403.90,513 L405.70,517 M405.70,513 L403.90,517" stroke="#666" stroke-width="0.6" fill="none" />
<rect x="395.75" y="469.70" width="18.10" height="4.05" rx="0.7" stroke="#333" stroke-width="1" fill="#bdbdbd" />
<line x1="397.80" y1="471.10" x2="411.80" y2="471.10" stroke="#8a8a8a" stroke-width="1.1" />
<rect x="395.75" y="552.30" width="18.10" height="4.05" rx="0.7" stroke="#333" stroke-width="1" fill="#bdbdbd" />
<line x1="397.80" y1="553.70" x2="411.80" y2="553.70" stroke="#8a8a8a" stroke-width="1.1" />
<circle cx="80.00" cy="508.00" r="6" stroke="#2b2b2b" stroke-width="1.1" fill="none"/>
<circle cx="437.50" cy="508.00" r="6" stroke="#2b2b2b" stroke-width="1.1" fill="none"/>
<line x1="58.50" y1="508.00" x2="460.00" y2="508.00" stroke="#2b2b2b" stroke-width="1" stroke-dasharray="14.5 4 3.1 4"/>
<line x1="80.00" y1="499.00" x2="80.00" y2="588.00" stroke="#2b2b2b" stroke-width="1" />
<line x1="437.50" y1="502.00" x2="437.50" y2="588.00" stroke="#2b2b2b" stroke-width="1" />
<line x1="80.00" y1="497.00" x2="80.00" y2="498.00" stroke="#2b2b2b" stroke-width="1" />
<line x1="437.50" y1="497.50" x2="437.50" y2="499.00" stroke="#2b2b2b" stroke-width="1" />
<line x1="80.00" y1="586.25" x2="437.50" y2="586.25" stroke="#2b2b2b" stroke-width="1" />
<polygon points="80.40,586.25 88.90,584.65 88.90,587.85" fill="#1a1a1a"/>
<polygon points="437.10,586.25 428.60,584.65 428.60,587.85" fill="#1a1a1a"/>
<text x="235.80" y="582.00" font-size="17.6" text-anchor="start" textLength="66.20" lengthAdjust="spacingAndGlyphs" fill="#1f1f1f" stroke="#1f1f1f" stroke-width="0.12" >102±0.1</text>
<line x1="624.40" y1="198.40" x2="714.80" y2="198.40" stroke="#2b2b2b" stroke-width="1" />
<line x1="624.40" y1="196.00" x2="624.40" y2="282.30" stroke="#2b2b2b" stroke-width="1" />
<line x1="650.50" y1="196.00" x2="650.50" y2="282.30" stroke="#2b2b2b" stroke-width="1" />
<polygon points="624.70,198.40 633.00,196.80 633.00,200.00" fill="#1a1a1a"/>
<polygon points="650.20,198.40 641.90,196.80 641.90,200.00" fill="#1a1a1a"/>
<text x="653.30" y="193.50" font-size="17.6" text-anchor="start" textLength="62.00" lengthAdjust="spacingAndGlyphs" fill="#1f1f1f" stroke="#1f1f1f" stroke-width="0.12" >7.5±0.1</text>
<path d="M624.4,221.3 Q624.5,218.9 626.5,218.9 H629.8 Q634,219.2 634.1,224.5 V236.7 H641.1 V224.5 Q641.2,219.2 645.5,218.9 H648.4 Q650.4,218.9 650.5,221.3" stroke="#2b2b2b" stroke-width="1" fill="none" />
<line x1="637.40" y1="212.00" x2="637.40" y2="381.20" stroke="#2b2b2b" stroke-width="1" stroke-dasharray="22 4.5 4.5 4.5"/>
<circle cx="637.40" cy="276.00" r="5.2" stroke="#2b2b2b" stroke-width="1" fill="none"/>
<line x1="630.20" y1="276.00" x2="644.80" y2="276.00" stroke="#2b2b2b" stroke-width="1" />
<path d="M619.8,282.3 V276.7 H604 Q602.7,276.7 602.7,278 L601.2,332.3" stroke="#2b2b2b" stroke-width="1" fill="none" />
<path d="M655.4,282.3 V276.7 H671.5 Q672.8,276.7 672.8,278 L674.1,340.5" stroke="#2b2b2b" stroke-width="1" fill="none" />
<line x1="619.80" y1="282.30" x2="655.40" y2="282.30" stroke="#2b2b2b" stroke-width="1" />
<line x1="610.30" y1="284.60" x2="619.80" y2="282.30" stroke="#2b2b2b" stroke-width="1" />
<line x1="655.40" y1="282.30" x2="663.00" y2="284.20" stroke="#2b2b2b" stroke-width="1" />
<path d="M610.3,335.8 L601.2,332.3 H595.3 Q593.3,332.3 593.3,334.3 L592.7,381.4" stroke="#2b2b2b" stroke-width="1" fill="none" />
<path d="M674.1,332.3 H689 Q691.4,332.3 691.5,334.6 L692.3,381.4" stroke="#2b2b2b" stroke-width="1" fill="none" />
<line x1="674.10" y1="340.50" x2="691.40" y2="340.50" stroke="#2b2b2b" stroke-width="1" />
<line x1="674.10" y1="340.50" x2="664.30" y2="343.90" stroke="#2b2b2b" stroke-width="1" />
<line x1="592.70" y1="375.90" x2="692.30" y2="375.90" stroke="#2b2b2b" stroke-width="1.3" />
<line x1="592.70" y1="381.40" x2="692.30" y2="381.40" stroke="#2b2b2b" stroke-width="1" />
<path d="M600.0,381.5 V383.6 H600.75 V429.6 M602.95,429.6 V383.6 H603.7 V381.5" stroke="#333" stroke-width="0.9" fill="none" />
<line x1="601.85" y1="384.00" x2="601.85" y2="429.00" stroke="#9a9a9a" stroke-width="1.3" />
<path d="M681.6,381.5 V383.6 H682.35 V410.8 M684.15,410.8 V383.6 H684.9 V381.5" stroke="#333" stroke-width="0.9" fill="none" />
<line x1="683.25" y1="384.00" x2="683.25" y2="410.50" stroke="#9a9a9a" stroke-width="0.9" />
<path d="M628.5,387.6 C616,388 606,393.8 600.8,401.2" stroke="#2b2b2b" stroke-width="3.5" fill="none" stroke-linecap="round"/>
<path d="M628.5,387.6 C616,388 606,393.8 600.8,401.2" stroke="#fff" stroke-width="1.6" fill="none" stroke-linecap="round"/>
<path d="M659.5,393.8 L684.5,400.8" stroke="#2b2b2b" stroke-width="3.5" fill="none" stroke-linecap="round"/>
<path d="M659.5,393.8 L684.5,400.8" stroke="#fff" stroke-width="1.6" fill="none" stroke-linecap="round"/>
<g transform="translate(630.0,381.8) rotate(16.5)">
<rect x="0" y="0" width="31.2" height="9.4" fill="#fff" stroke="#2b2b2b" stroke-width="1"/>
<rect x="0" y="0" width="5.2" height="9.4" fill="#111" stroke="#111" stroke-width="1"/>
</g>
<line x1="584.20" y1="428.90" x2="653.30" y2="428.90" stroke="#2b2b2b" stroke-width="1" />
<polygon points="600.20,428.90 591.90,427.30 591.90,430.50" fill="#1a1a1a"/>
<polygon points="604.60,428.90 612.90,427.30 612.90,430.50" fill="#1a1a1a"/>
<text x="616.40" y="426.60" font-size="17.6" text-anchor="start" textLength="42.10" lengthAdjust="spacingAndGlyphs" fill="#1f1f1f" stroke="#1f1f1f" stroke-width="0.12" >6-0.5</text>
<line x1="592.70" y1="381.00" x2="592.70" y2="453.60" stroke="#2b2b2b" stroke-width="1" />
<line x1="692.40" y1="381.00" x2="692.40" y2="453.60" stroke="#2b2b2b" stroke-width="1" />
<line x1="592.60" y1="452.50" x2="692.60" y2="452.50" stroke="#2b2b2b" stroke-width="1" />
<polygon points="593.00,452.50 601.80,450.70 601.80,454.30" fill="#1a1a1a"/>
<polygon points="692.20,452.50 683.40,450.70 683.40,454.30" fill="#1a1a1a"/>
<text x="603.70" y="449.40" font-size="17.6" text-anchor="start" textLength="82.10" lengthAdjust="spacingAndGlyphs" fill="#1f1f1f" stroke="#1f1f1f" stroke-width="0.12" >28.5±0.15</text>
</svg>
</body></html>
